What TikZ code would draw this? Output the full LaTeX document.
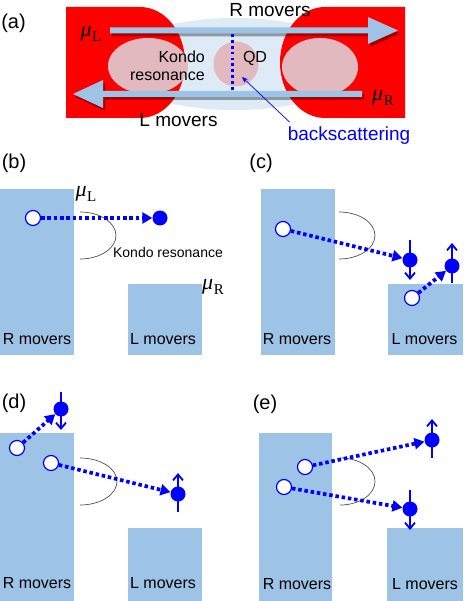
\documentclass[tikz,border=0pt]{standalone}
\usepackage{fontspec}
\setmainfont{Liberation Sans}
\newfontfamily\serifmu{Liberation Serif}
\usetikzlibrary{arrows.meta,calc}
\definecolor{boxblue}{RGB}{157,195,230}
\definecolor{paleblue}{RGB}{222,235,247}
\definecolor{pinkk}{RGB}{227,185,192}
\definecolor{arcgray}{RGB}{80,80,80}
\newcommand{\muL}[1]{{\serifmu\fontsize{22}{24}\selectfont\itshape μ\kern0.5pt\raisebox{-0.22em}{\fontsize{15}{16}\selectfont\upshape #1}}}
\tikzset{
  rbox/.style={fill=boxblue},
  hole/.style={circle,draw=blue,fill=white,line width=1.2pt,minimum size=15pt,inner sep=0pt},
  elec/.style={circle,fill=blue,minimum size=15pt,inner sep=0pt},
  hop/.style={draw=blue,line width=3.7pt,dash pattern=on 3.5pt off 2.8pt,-{Triangle[length=10pt,width=11pt]}},
  spin/.style={draw=blue,line width=1.8pt,-{Straight Barb[length=6pt,width=10pt]}},
  kondoarc/.style={draw=arcgray,line width=0.7pt},
  lbl/.style={inner sep=0pt,anchor=base,font=\fontsize{16}{18}\selectfont},
  biglbl/.style={inner sep=0pt,anchor=base,font=\fontsize{19}{22}\selectfont},
  panellbl/.style={inner sep=0pt,anchor=base,font=\fontsize{20}{23}\selectfont},
  mulbl/.style={inner sep=0pt},
  shadow/.style={fill=black,opacity=0.35},
  bigarrow/.style={fill=boxblue}
}
\begin{document}
\begin{tikzpicture}[x=1pt,y=-1pt]
\useasboundingbox (0,0) rectangle (463,601);

% ---------------- panel (a) ----------------
\node[panellbl] (la) at (13.5,29) {(a)};
\fill[paleblue] (235,64) ellipse[x radius=125,y radius=46];
\fill[red] (66,7) -- (140,7) arc[start angle=-90,end angle=90,x radius=45,y radius=55.5] -- (66,118) -- cycle;
\fill[red] (405,7) -- (325,7) arc[start angle=-90,end angle=-270,x radius=45,y radius=55.5] -- (405,118) -- cycle;
\fill[pinkk] (148,66) ellipse[x radius=40,y radius=28];
\fill[pinkk] (320,67) ellipse[x radius=38,y radius=29];
\node[circle,fill=pinkk,minimum size=45pt,inner sep=0pt] (qd) at (236,64) {};
% shadows of the two big arrows
\begin{scope}[shift={(2,3)}]
\fill[shadow] (110,27.5) -- (368,27.5) -- (368,17) -- (398,30.5) -- (368,44) -- (368,33.5) -- (110,33.5) -- cycle;
\fill[shadow] (362,91) -- (103,91) -- (103,80) -- (73,94) -- (103,108) -- (103,97) -- (362,97) -- cycle;
\end{scope}
\fill[bigarrow] (110,27.5) -- (368,27.5) -- (368,17) -- (398,30.5) -- (368,44) -- (368,33.5) -- (110,33.5) -- cycle;
\fill[bigarrow] (362,91) -- (103,91) -- (103,80) -- (73,94) -- (103,108) -- (103,97) -- (362,97) -- cycle;
\coordinate (bsT) at (232,34);
\coordinate (bsB) at (232,91);
\draw[blue,line width=3pt,dash pattern=on 2.8pt off 3.1pt] (bsT) -- (bsB);
\node[biglbl] (rmA) at (270,17) {R movers};
\node[biglbl] (lmA) at (178.5,127) {L movers};
\node[lbl,anchor=base east] (kA) at (205,63) {Kondo};
\node[lbl,anchor=base east] (rA) at (205,81) {resonance};
\node[lbl] (qdt) at (255,63) {QD};
\node[mulbl] (muLa) at (91,34) {\muL{L}};
\node[mulbl] (muRa) at (383,98) {\muL{R}};
\node[biglbl,text=blue] (bs) at (349,141) {backscattering};
\coordinate (bstip) at (242,77);
\draw[blue,line width=0.7pt,-{Stealth[length=6pt,width=5pt]}] ($(bs.north west)+(2,-5)$) -- (bstip);

% ---------------- panel (b) ----------------
\node[panellbl] (lb) at (14,169) {(b)};
\fill[rbox] (0,189) rectangle (74,355);
\fill[rbox] (128,284) rectangle (202,355);
\draw[kondoarc] (80,212) arc[start angle=-90,end angle=90,x radius=36,y radius=23.5];
\node[hole] (b1) at (33,218) {};
\node[elec] (b2) at (160,218) {};
\draw[hop] (b1) -- (b2);
\node[inner sep=0pt,anchor=base,font=\fontsize{14}{16}\selectfont] (kb) at (168,257) {Kondo resonance};
\node[mulbl] (muLb) at (86,194) {\muL{L}};
\node[mulbl] (muRb) at (213,287) {\muL{R}};
\node[lbl] (rmb) at (37,344) {R movers};
\node[lbl] (lmb) at (163,344) {L movers};

% ---------------- panel (c) ----------------
\node[panellbl] (lc) at (261,169) {(c)};
\fill[rbox] (261,189) rectangle (335,355);
\fill[rbox] (388,284) rectangle (463,355);
\draw[kondoarc] (339,212) arc[start angle=-90,end angle=90,x radius=36,y radius=23.5];
\node[hole] (c1) at (283,229) {};
\node[elec] (c2) at (410,260) {};
\node[hole] (c3) at (412,298) {};
\node[elec] (c4) at (452,266) {};
\draw[hop] (c1) -- (c2);
\draw[hop] (c3) -- (c4);
\draw[spin] ($(c2)+(0,-20)$) -- ($(c2)+(0,20)$);
\draw[spin] ($(c4)+(0,17)$) -- ($(c4)+(0,-23)$);
\node[lbl] (rmc) at (297,344) {R movers};
\node[lbl] (lmc) at (424.5,344) {L movers};

% ---------------- panel (d) ----------------
\node[panellbl] (ld) at (14,408) {(d)};
\fill[rbox] (0,433) rectangle (74,601);
\fill[rbox] (128,528) rectangle (202,601);
\draw[kondoarc] (80,458) arc[start angle=-90,end angle=90,x radius=37,y radius=23.5];
\node[hole] (d1) at (17,448) {};
\node[hole] (d2) at (51,463) {};
\node[elec] (d3) at (61,409) {};
\node[elec] (d4) at (178,494) {};
\draw[hop] (d1) -- (d3);
\draw[hop] (d2) -- (d4);
\draw[spin] ($(d3)+(0,-17)$) -- ($(d3)+(0,21)$);
\draw[spin] ($(d4)+(0,18)$) -- ($(d4)+(0,-21)$);
\node[lbl] (rmd) at (37,588) {R movers};
\node[lbl] (lmd) at (163,588) {L movers};

% ---------------- panel (e) ----------------
\node[panellbl] (le) at (265,409) {(e)};
\fill[rbox] (259,433) rectangle (332,601);
\fill[rbox] (387,528) rectangle (463,601);
\draw[kondoarc] (340,458) arc[start angle=-90,end angle=90,x radius=35,y radius=23.5];
\node[hole] (e1) at (305,467) {};
\node[hole] (e2) at (284,487) {};
\node[elec] (e3) at (432,440) {};
\node[elec] (e4) at (410,509) {};
\draw[hop] (e1) -- (e3);
\draw[hop] (e2) -- (e4);
\draw[spin] ($(e3)+(0,18)$) -- ($(e3)+(0,-21)$);
\draw[spin] ($(e4)+(0,-19)$) -- ($(e4)+(0,21)$);
\node[lbl] (rme) at (297,589) {R movers};
\node[lbl] (lme) at (425,589) {L movers};
\end{tikzpicture}
\end{document}
